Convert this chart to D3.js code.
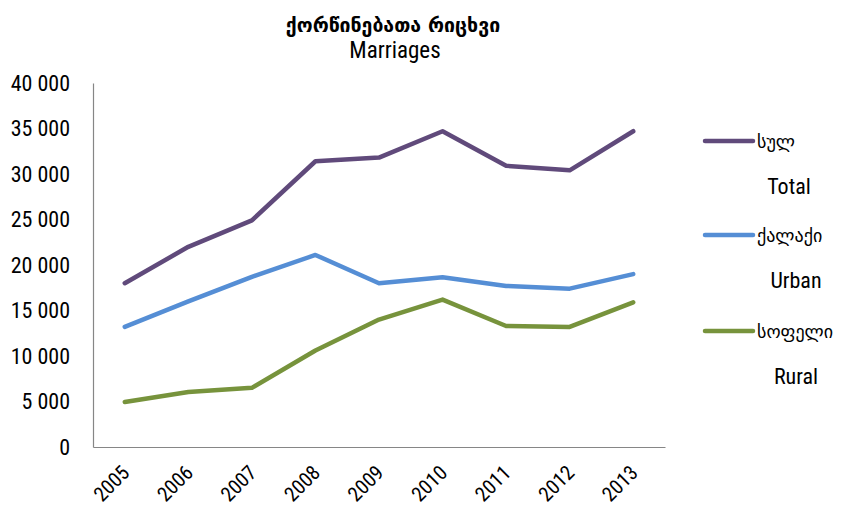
<!DOCTYPE html>
<html><head><meta charset="utf-8">
<script src="https://cdn.jsdelivr.net/npm/d3@7"></script>
<style>
body{margin:0;background:#fff;}
svg{display:block;}
.ax{font-family:"Liberation Sans Narrow","Arial Narrow","Roboto Condensed","Liberation Sans",sans-serif;}
</style></head>
<body><svg id="c" width="844" height="506"></svg>
<script>
const years = ["2005","2006","2007","2008","2009","2010","2011","2012","2013"];
const total = [18000, 22000, 24900, 31400, 31800, 34700, 30900, 30400, 34700];
const urban = [13200, 16000, 18700, 21100, 18000, 18650, 17700, 17400, 19000];
const rural = [4950, 6050, 6500, 10600, 14000, 16200, 13300, 13200, 15900];
const yTicks = [0, 5000, 10000, 15000, 20000, 25000, 30000, 35000, 40000];
const seriesNames = [["სულ","Total"],["ქალაქი","Urban"],["სოფელი","Rural"]];
const colors = ["#604A7B","#558ED5","#77933C"];
const titleKa = "ქორწინებათა რიცხვი";
const titleEn = "Marriages";

const svg = d3.select("#c");
const L = 93, R = 665, T = 83, B = 447;
const x = d3.scaleBand().domain(years).range([L, R]);
const y = d3.scaleLinear().domain([0, 40000]).range([B, T]);
const fmt = v => d3.format(",")(v).replace(/,/g, " ");

// axes
const ya = svg.append("g").attr("transform", `translate(${L},0)`)
  .call(d3.axisLeft(y).tickValues(yTicks).tickSize(0).tickPadding(23).tickFormat(fmt));
ya.select(".domain").attr("stroke", "#868686").attr("stroke-width", 1.2);
ya.selectAll("text").attr("class","ax").attr("font-size", 22).attr("fill", "#000");

const xa = svg.append("g").attr("transform", `translate(0,${B})`)
  .call(d3.axisBottom(x).tickSize(0).tickPadding(0));
xa.select(".domain").attr("stroke", "#868686").attr("stroke-width", 1.2);
xa.selectAll("text").attr("class","ax").attr("font-size", 20.5).attr("fill", "#000")
  .attr("text-anchor", "end").attr("dy", 0)
  .attr("transform", "translate(6,27) rotate(-45)");

// lines
const data = [total, urban, rural];
const line = d3.line().x((d,i) => x(years[i]) + x.bandwidth()/2).y(d => y(d));
data.forEach((s, k) => {
  svg.append("path").datum(s).attr("d", line).attr("fill", "none")
    .attr("stroke", colors[k]).attr("stroke-width", 4.5)
    .attr("stroke-linejoin", "round").attr("stroke-linecap", "round");
});

// legend
const legY = [141, 235, 331];
const legX2 = [789, 796, 796];
seriesNames.forEach((n, k) => {
  const g = svg.append("g");
  g.append("line").attr("x1", 705).attr("x2", 753).attr("y1", legY[k]).attr("y2", legY[k])
    .attr("stroke", colors[k]).attr("stroke-width", 4.5).attr("stroke-linecap", "round");
  g.append("text").attr("x", 757).attr("y", legY[k] + 7).attr("font-family", "DejaVu Sans")
    .attr("font-size", 18).text(n[0]);
  g.append("text").attr("class","ax").attr("x", legX2[k]).attr("y", legY[k] + 53).attr("text-anchor","middle")
    .attr("font-size", 22).text(n[1]);
});

// title
svg.append("text").attr("x", 393).attr("y", 32).attr("text-anchor", "middle")
  .attr("font-family", "DejaVu Sans").attr("font-weight", "bold").attr("font-size", 19.5).text(titleKa);
svg.append("text").attr("class","ax").attr("x", 395).attr("y", 58).attr("text-anchor", "middle")
  .attr("font-size", 23).text(titleEn);
</script></body></html>
